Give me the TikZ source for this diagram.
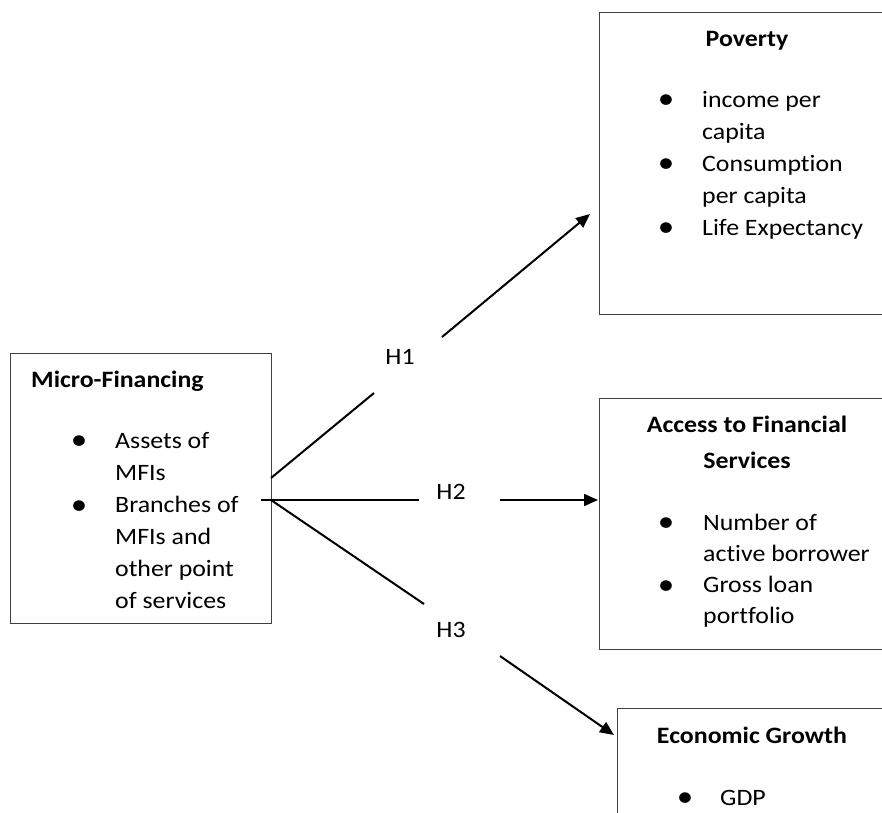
\documentclass[tikz,border=0pt]{standalone}
\usepackage{fontspec}
\setmainfont{Carlito}[FakeStretch=1.1,Ligatures=NoCommon]
\usetikzlibrary{arrows.meta}
\usetikzlibrary{positioning}
\newcommand\boxfont{\fontsize{23.5}{32}\selectfont}
\tikzset{box/.style={draw=black!75,line width=0.9pt,rectangle,inner sep=0pt}}
\tikzset{head/.style={font=\boxfont\bfseries,anchor=base,inner sep=0pt}}
\tikzset{item/.style={anchor=base west,inner sep=0pt}}
\tikzset{dot/.style={anchor=base,inner sep=0pt,font=\fontsize{30}{32}\selectfont}}
\tikzset{hyp/.style={inner sep=0pt}}
\tikzset{link/.style={line width=2pt,draw=black}}

\begin{document}
\begin{tikzpicture}[x=1pt,y=-1pt,font=\boxfont,
    >={Triangle[length=14pt,width=12pt]}]
    \useasboundingbox (0,0) rectangle (882,812);
    \clip (0,0) rectangle (882,812);

    % boxes
    \node[box,minimum width=261pt,minimum height=270pt] (mf) at (140.5,488) {};
    \node[box,minimum width=301pt,minimum height=302pt] (pov) at (749.5,163) {};
    \node[box,minimum width=301pt,minimum height=251pt] (afs) at (749.5,523.5) {};
    \node[box,minimum width=283pt,minimum height=130pt] (eg) at (758.5,773) {};

    % Micro-Financing
    \node[head,anchor=base west] (mfhead) at (31,387) {Micro-Financing};
    \foreach \y [count=\i] in {448,513}
        \node[dot] (mfb\i) at (79,\y+1) {\textbullet};
    \foreach \t [count=\i] in {Assets of,MFIs,Branches of,MFIs and,other point,of services}
        \node[item] (mft\i) at (115,{416+\i*32}) {\t};

    % Poverty
    \node[head] (povhead) at (747,46) {Poverty};
    \foreach \y [count=\i] in {107,171,235}
        \node[dot] (povb\i) at (666,\y+1) {\textbullet};
    \foreach \t [count=\i] in {income per,capita,Consumption,per capita,Life Expectancy}
        \node[item] (povt\i) at (702,{75+\i*32}) {\t};

    % Access to Financial Services
    \node[head] (afshead1) at (747,432) {Access to Financial};
    \node[head] (afshead2) at (747,468) {Services};
    \foreach \y [count=\i] in {530,593}
        \node[dot] (afsb\i) at (666,\y+1) {\textbullet};
    \foreach \t [count=\i] in {Number of,active borrower,Gross loan,portfolio}
        \node[item] (afst\i) at (703,{499+\i*31}) {\t};

    % Economic Growth
    \node[head] (eghead) at (752,743) {Economic Growth};
    \node[dot] (egb1) at (685,806) {\textbullet};
    \node[item] (egt1) at (720,805) {GDP};

    % hypotheses
    \node[hyp] (h1) at (400,357) {H1};
    \node[hyp] (h2) at (451,492) {H2};
    \node[hyp] (h3) at (451,630) {H3};

    \coordinate (s1) at (271,478);
    \coordinate (s2) at (261,500);
    \coordinate (s3) at (271,500);
    \coordinate (h1in) at (374,393);
    \coordinate (h1out) at (442,337);
    \coordinate (h2in) at (419,500);
    \coordinate (h2out) at (500,500);
    \coordinate (h3in) at (424,604);
    \coordinate (h3out) at (500,656);
    \coordinate (t1) at (590,214);
    \coordinate (t2) at (598,500);
    \coordinate (t3) at (614,735);

    \draw[link] (s1) -- (h1in);
    \draw[link,->] (h1out) -- (t1);
    \draw[link] (s2) -- (h2in);
    \draw[link,->] (h2out) -- (t2);
    \draw[link] (s3) -- (h3in);
    \draw[link,->] (h3out) -- (t3);
\end{tikzpicture}
\end{document}
